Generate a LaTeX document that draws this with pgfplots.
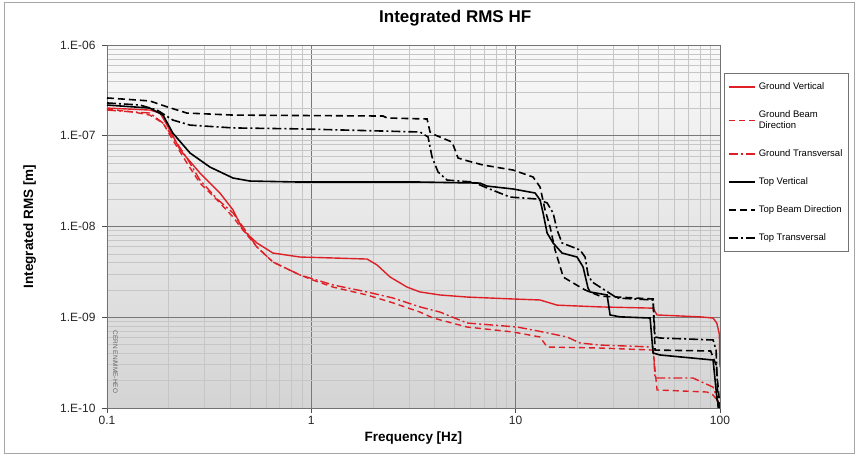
\documentclass[border=0pt]{standalone}
\usepackage{fontspec}
\setmainfont{Liberation Sans}
\usepackage{pgfplots}
\pgfplotsset{compat=1.18}
\definecolor{gred}{RGB}{222,32,38}
\definecolor{majgrid}{RGB}{120,120,120}
\definecolor{mingrid}{RGB}{198,198,198}
\definecolor{bgtop}{RGB}{249,249,249}
\definecolor{bgbot}{RGB}{212,212,212}
\begin{document}
\begin{tikzpicture}[x=1pt,y=1pt]
\path[use as bounding box] (0,0) rectangle (855,455);
\draw[black!35, line width=0.8pt] (4,2) rectangle (854,453);
\begin{axis}[
  at={(107pt,47pt)}, anchor=south west,
  scale only axis, width=613pt, height=363pt,
  xmode=log, ymode=log,
  xmin=0.1, xmax=100, ymin=1e-10, ymax=1e-6,
  xtick={0.1,1,10,100}, xticklabels={0.1,1,10,100},
  ytick={1e-10,1e-9,1e-8,1e-7,1e-6},
  yticklabels={1.E-10,1.E-09,1.E-08,1.E-07,1.E-06},
  minor xtick={0.2,0.3,0.4,0.5,0.6,0.7,0.8,0.9,2,3,4,5,6,7,8,9,20,30,40,50,60,70,80,90},
  minor ytick={2e-10,3e-10,4e-10,5e-10,6e-10,7e-10,8e-10,9e-10,
               2e-9,3e-9,4e-9,5e-9,6e-9,7e-9,8e-9,9e-9,
               2e-8,3e-8,4e-8,5e-8,6e-8,7e-8,8e-8,9e-8,
               2e-7,3e-7,4e-7,5e-7,6e-7,7e-7,8e-7,9e-7},
  grid=both,
  major grid style={majgrid, line width=0.9pt},
  minor grid style={mingrid, line width=0.5pt},
  tick pos=left, tick align=outside,
  major tick length=5pt, minor tick length=0pt,
  tick style={black!70, line width=0.6pt},
  axis line style={black!55, line width=0.7pt},
  ticklabel style={font=\fontsize{12}{14}\selectfont, text=black!85},
  yticklabel style={xshift=-3pt},
  xlabel={Frequency [Hz]}, ylabel={Integrated RMS [m]},
  label style={font=\bfseries\fontsize{13.5}{16}\selectfont},
  xlabel style={at={(axis description cs:0.5,-0.083)}, anchor=center},
  ylabel style={at={(axis description cs:-0.126,0.5)}, anchor=center},
  title={Integrated RMS HF},
  title style={at={(axis description cs:0.568,1.058)}, anchor=center, font=\bfseries\fontsize{17}{20}\selectfont},
  axis background/.style={top color=bgtop, bottom color=bgbot},
  legend style={at={(1.0065,0.923)}, anchor=north west, draw=black!55, fill=white,
    font=\fontsize{9.5}{11.5}\selectfont, row sep=15.5pt, inner xsep=4pt, inner ysep=7.5pt,
    nodes={align=left}, column sep=1pt},
  legend cell align=left,
  legend image code/.code={\draw[#1] (0pt,0pt) -- (26pt,0pt);},
]
% Ground Vertical
\addplot[gred, line width=1.4pt] coordinates {
(0.1,2.02e-7) (0.162,1.92e-7) (0.182,1.78e-7) (0.203,1.16e-7) (0.228,6.97e-8)
(0.285,3.89e-8) (0.357,2.34e-8) (0.414,1.52e-8) (0.463,9.15e-9) (0.542,6.58e-9)
(0.649,5.10e-9) (0.881,4.61e-9) (1.277,4.50e-9) (1.874,4.38e-9) (2.097,3.77e-9)
(2.428,2.78e-9) (2.941,2.15e-9) (3.405,1.90e-9) (4.266,1.76e-9) (5.783,1.67e-9)
(9.712,1.59e-9) (13.17,1.55e-9) (15.95,1.36e-9) (25.89,1.30e-9) (47.05,1.26e-9)
(49.2,1.06e-9) (79.9,1.01e-9) (92.5,9.81e-10) (96.5,8.6e-10) (99.3,6.5e-10) (100,2.83e-10)
};
\addlegendentry{Ground Vertical}
% Ground Beam Direction
\addplot[gred, line width=1.4pt, dash pattern=on 6pt off 4pt] coordinates {
(0.1,1.97e-7) (0.134,1.83e-7) (0.162,1.69e-7) (0.188,1.38e-7) (0.210,8.98e-8)
(0.246,5.01e-8) (0.285,3.01e-8) (0.346,1.96e-8) (0.414,1.27e-8) (0.463,9.15e-9)
(0.542,5.94e-9) (0.649,4.06e-9) (0.881,2.92e-9) (1.019,2.57e-9) (1.277,2.15e-9)
(1.874,1.76e-9) (2.511,1.44e-9) (3.405,1.14e-9) (3.942,9.81e-10) (5.783,7.81e-10)
(9.712,6.88e-10) (13.17,6.06e-10) (14.25,4.70e-10) (25.89,4.58e-10) (47.05,4.35e-10)
(49.2,1.58e-10) (86.5,1.50e-10) (92.5,1.39e-10) (96.8,1.22e-10) (100,1.0e-10)
};
\addlegendentry{Ground Beam\\Direction}
% Ground Transversal
\addplot[gred, line width=1.4pt, dash pattern=on 9pt off 3pt on 2pt off 3pt] coordinates {
(0.1,1.92e-7) (0.134,1.83e-7) (0.162,1.78e-7) (0.188,1.38e-7) (0.210,9.69e-8)
(0.246,5.68e-8) (0.285,3.25e-8) (0.346,2.01e-8) (0.414,1.41e-8) (0.463,9.88e-9)
(0.542,5.94e-9) (0.649,4.06e-9) (0.881,2.92e-9) (1.277,2.27e-9) (1.874,1.90e-9)
(2.511,1.63e-9) (3.405,1.30e-9) (4.266,1.14e-9) (5.783,8.64e-10) (10.16,7.81e-10)
(13.62,6.88e-10) (17.85,6.06e-10) (20.67,5.20e-10) (25.89,4.94e-10) (47.05,4.70e-10)
(48.1,2.14e-10) (73.8,2.14e-10) (92.5,1.70e-10) (95.7,1.39e-10) (100,1.0e-10)
};
\addlegendentry{Ground Transversal}
% Top Vertical
\addplot[black, line width=1.6pt] coordinates {
(0.1,2.18e-7) (0.162,2.02e-7) (0.188,1.69e-7) (0.210,1.07e-7) (0.255,6.45e-8)
(0.319,4.52e-8) (0.414,3.42e-8) (0.501,3.17e-8) (0.881,3.09e-8) (3.405,3.09e-8)
(6.694,3.01e-8) (7.244,2.79e-8) (9.712,2.59e-8) (12.45,2.34e-8) (13.17,1.96e-8)
(13.62,1.41e-8) (14.25,8.48e-9) (15.25,6.58e-9) (16.87,5.10e-9) (19.98,4.61e-9)
(21.38,3.58e-9) (22.6,2.1e-9) (23.14,1.9e-9) (28.02,1.76e-9) (28.98,1.06e-9)
(32.43,1.01e-9) (45.5,9.81e-10) (47.05,4.04e-10) (50.9,3.84e-10) (92.5,3.38e-10)
(96.8,1.22e-10) (100,1.0e-10)
};
\addlegendentry{Top Vertical}
% Top Beam Direction
\addplot[black, line width=1.6pt, dash pattern=on 7pt off 4pt] coordinates {
(0.1,2.61e-7) (0.162,2.42e-7) (0.197,2.08e-7) (0.246,1.78e-7) (0.414,1.69e-7)
(2.244,1.65e-7) (2.347,1.57e-7) (3.685,1.53e-7) (3.811,1.10e-7) (4.032,1.02e-7)
(4.884,8.53e-8) (5.226,5.68e-8) (5.848,5.27e-8) (6.925,4.76e-8) (9.712,4.19e-8)
(12.17,3.51e-8) (13.17,2.72e-8) (13.93,1.52e-8) (14.74,9.88e-9) (15.59,5.51e-9)
(16.87,3.07e-9) (17.06,2.78e-9) (20.67,2.15e-9) (21.87,2.00e-9) (25.89,1.71e-9)
(47.05,1.59e-9) (48.1,4.35e-10) (90.0,4.25e-10) (95.7,2.98e-10) (100,1.0e-10)
};
\addlegendentry{Top Beam Direction}
% Top Transversal
\addplot[black, line width=1.6pt, dash pattern=on 9pt off 3pt on 2pt off 3pt] coordinates {
(0.1,2.30e-7) (0.145,2.18e-7) (0.176,1.92e-7) (0.210,1.49e-7) (0.255,1.31e-7)
(0.414,1.22e-7) (0.881,1.19e-7) (3.405,1.10e-7) (3.727,9.69e-8) (3.898,5.83e-8)
(4.171,3.99e-8) (4.616,3.25e-8) (6.187,3.09e-8) (7.244,2.66e-8) (9.389,2.11e-8)
(12.73,2.01e-8) (14.25,1.82e-8) (15.25,1.41e-8) (15.95,9.15e-9) (16.87,6.58e-9)
(20.67,5.51e-9) (21.87,4.61e-9) (22.62,2.92e-9) (23.66,2.45e-9) (25.89,2.15e-9)
(31.36,1.63e-9) (47.05,1.55e-9) (48.1,6.06e-10) (50.9,5.91e-10) (92.5,5.62e-10)
(95.7,4.35e-10) (97.9,1.0e-10)
};
\addlegendentry{Top Transversal}
\end{axis}
\node[rotate=-90, font=\fontsize{6.5}{7}\selectfont, text=black!60] at (115.5,93) {CERN EN/MME-HEO};
\end{tikzpicture}
\end{document}
